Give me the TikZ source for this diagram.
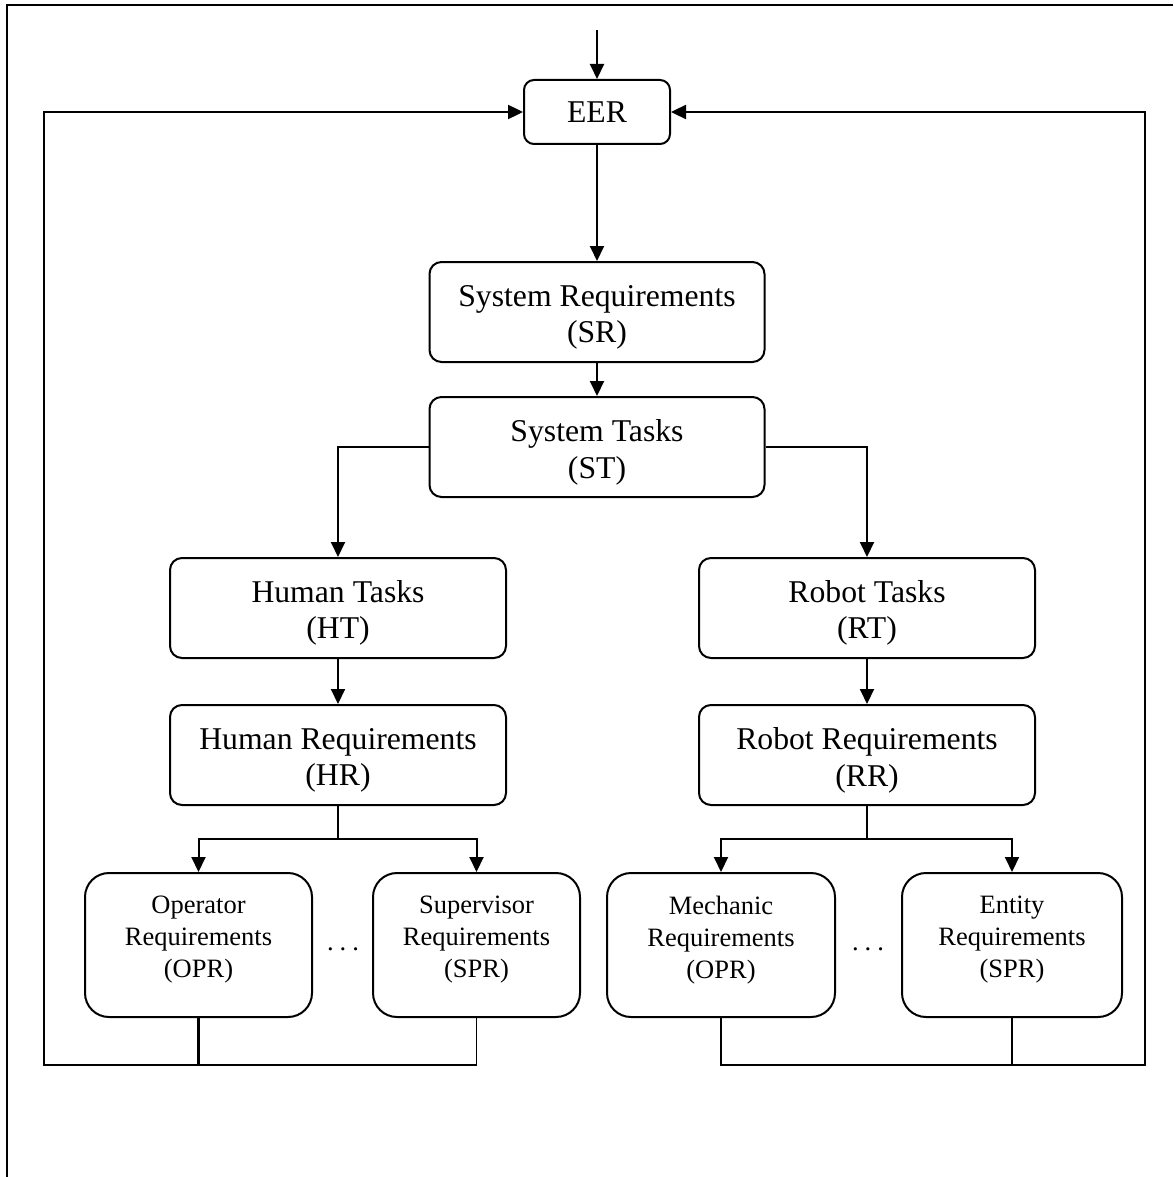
\documentclass[tikz,border=0pt]{standalone}
\usepackage{fontspec}
\setmainfont{Liberation Serif}
\usetikzlibrary{arrows.meta}
\tikzset{
  bigbox/.style={draw, line width=2pt, rounded corners=12pt, inner sep=0pt},
  smallbox/.style={draw, line width=2pt, rounded corners=24pt, inner sep=0pt,
    minimum width=#1, minimum height=144pt},
  bigtxt/.style={inner sep=0pt, align=center, font=\fontsize{31.7}{36.5}\selectfont},
  smalltxt/.style={inner sep=0pt, align=center, font=\fontsize{26.5}{32}\selectfont},
  conn/.style={line width=2pt},
  arr/.style={line width=2pt, -{Triangle[width=14pt,length=15pt]}},
  thinconn/.style={line width=1.2pt},
  dotsnode/.style={font=\fontsize{26.5}{32}\selectfont, inner sep=0pt}
}
\begin{document}
\begin{tikzpicture}[x=1pt,y=-1pt]
\useasboundingbox (0,0) rectangle (1173,1177);
% frame
\draw[line width=1.6pt] (7,1177) -- (7,5) -- (1173,5);
% boxes
\node[bigbox, minimum width=146pt, minimum height=64pt, rounded corners=10pt] (EER) at (597,112) {};
\node[bigtxt] (EERt) at (EER.center) {EER};
\node[bigbox, minimum width=335pt, minimum height=100pt] (SR) at (597,312) {};
\node[bigtxt] (SRt) at ([yshift=-5.5pt]SR.center) {System Requirements\\(SR)};
\node[bigbox, minimum width=335pt, minimum height=100pt] (ST) at (597,447) {};
\node[bigtxt] (STt) at ([yshift=-5.5pt]ST.center) {System Tasks\\(ST)};
\node[bigbox, minimum width=336pt, minimum height=100pt] (HT) at (338,608) {};
\node[bigtxt] (HTt) at ([yshift=-5pt]HT.center) {Human Tasks\\(HT)};
\node[bigbox, minimum width=336pt, minimum height=100pt] (HR) at (338,755) {};
\node[bigtxt] (HRt) at ([yshift=-5.5pt]HR.center) {Human Requirements\\(HR)};
\node[bigbox, minimum width=336pt, minimum height=100pt] (RT) at (867,608) {};
\node[bigtxt] (RTt) at ([yshift=-5pt]RT.center) {Robot Tasks\\(RT)};
\node[bigbox, minimum width=336pt, minimum height=100pt] (RR) at (867,755) {};
\node[bigtxt] (RRt) at ([yshift=-5.5pt]RR.center) {Robot Requirements\\(RR)};
\node[smallbox=227pt] (OPR) at (198.5,945) {};
\node[smalltxt] (OPRt) at ([yshift=5pt]OPR.center) {Operator\\Requirements\\(OPR)};
\node[smallbox=207pt] (SPR) at (476.5,945) {};
\node[smalltxt] (SPRt) at ([yshift=5pt]SPR.center) {Supervisor\\Requirements\\(SPR)};
\node[smallbox=228pt] (MEC) at (721,945) {};
\node[smalltxt] (MECt) at ([yshift=5pt]MEC.center) {Mechanic\\Requirements\\(OPR)};
\node[smallbox=220pt] (ENT) at (1012,945) {};
\node[smalltxt] (ENTt) at ([yshift=5pt]ENT.center) {Entity\\Requirements\\(SPR)};
\node[dotsnode] (d1) at (343,949) {.\hspace{6pt}.\hspace{6pt}.};
\node[dotsnode] (d2) at (868,949) {.\hspace{6pt}.\hspace{6pt}.};
% coordinates
\coordinate (in) at (597,30);
\coordinate (hrj) at (338,839);
\coordinate (rrj) at (867,839);
\coordinate (lb) at (44,1065);
\coordinate (lt) at (44,112);
\coordinate (rb) at (1145,1065);
\coordinate (rt) at (1145,112);
% connectors
\draw[arr] (in) -- (EER.north);
\draw[arr] (EER.south) -- (SR.north);
\draw[arr] (SR.south) -- (ST.north);
\draw[arr] (ST.west) -| (HT.north);
\draw[arr] (ST.east) -| (RT.north);
\draw[arr] (HT.south) -- (HR.north);
\draw[arr] (RT.south) -- (RR.north);
\draw[conn] (HR.south) -- (hrj);
\draw[arr] (hrj) -| (OPR.north);
\draw[arr] (hrj) -| (SPR.north);
\draw[conn] (RR.south) -- (rrj);
\draw[arr] (rrj) -| (MEC.north);
\draw[arr] (rrj) -| (ENT.north);
% feedback loops
\draw[thinconn] (SPR.south) |- (OPR.south |- lb);
\draw[arr, line width=2.4pt] (OPR.south) |- (lb) -- (lt) -- (EER.west);
\draw[thinconn] (MEC.south) |- (ENT.south |- rb);
\draw[arr, line width=2.4pt] (ENT.south) |- (rb) -- (rt) -- (EER.east);
\end{tikzpicture}
\end{document}
